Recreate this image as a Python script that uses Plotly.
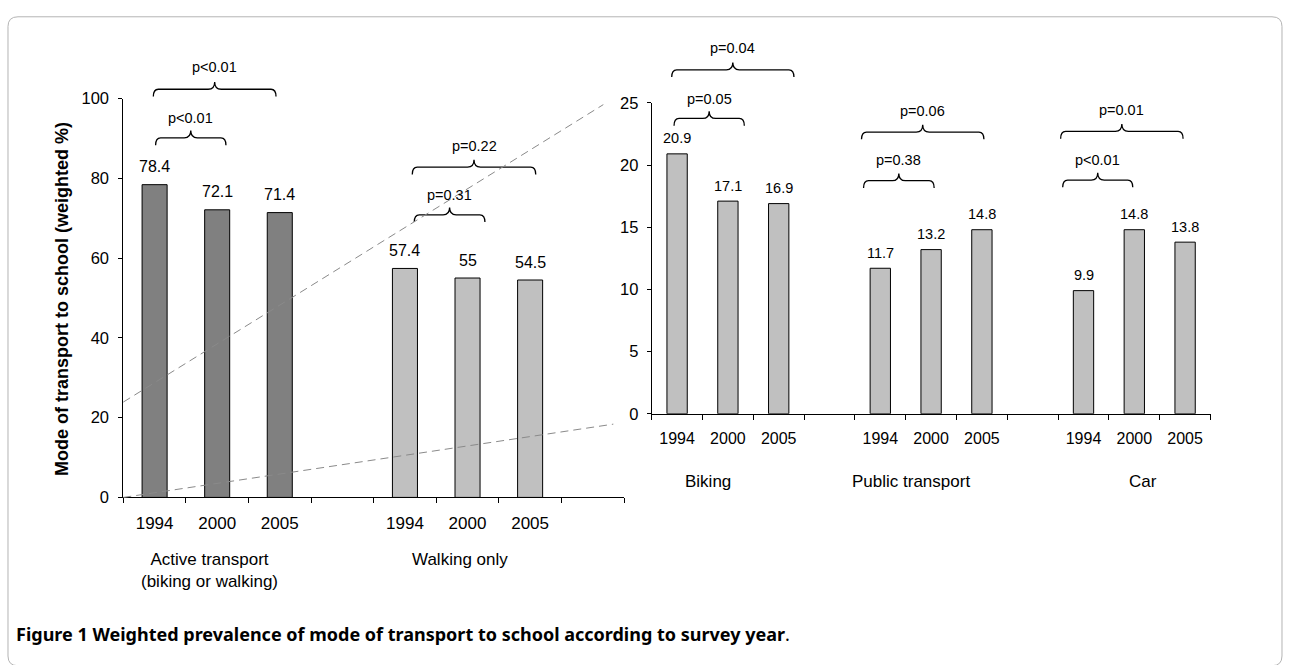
import plotly.graph_objects as go

# ---------------- data ----------------
years = ["1994", "2000", "2005"]
active_transport = [78.4, 72.1, 71.4]
walking_only = [57.4, 55.0, 54.5]
biking = [20.9, 17.1, 16.9]
public_transport = [11.7, 13.2, 14.8]
car = [9.9, 14.8, 13.8]

left_groups = ["Active transport<br>(biking or walking)", "Walking only"]
right_groups = ["Biking", "Public transport", "Car"]

left_pvalues = ["p<0.01", "p<0.01", "p=0.22", "p=0.31"]
right_pvalues = ["p=0.04", "p=0.05", "p=0.06", "p=0.38", "p=0.01", "p<0.01"]

y_title = "Mode of transport to school (weighted %)"
caption_bold = "Figure 1 Weighted prevalence of mode of transport to school according to survey year"

# ---------------- layout geometry (pixels) ----------------
W, H = 1289, 665
def px(x):
    return x / W
def py(y):
    return 1 - y / H

L_X0, L_X1 = 123.3, 624.0
L_Y0, L_Y100 = 502.0, 92.0
R_X0, R_X1 = 651.7, 1210.5
R_Y0, R_Y25 = 416.0, 96.5
L_UNIT = (L_X1 - L_X0) / 8
R_UNIT = (R_X1 - R_X0) / 11

DARK = "#808080"
LIGHT = "#c0c0c0"
FONT = "Liberation Sans, Arial, sans-serif"

fig = go.Figure()

left_x_active = [0, 1, 2]
left_x_walk = [4, 5, 6]
right_x = [[0, 1, 2], [4, 5, 6], [8, 9, 10]]
right_series = [biking, public_transport, car]

fig.add_trace(go.Bar(x=left_x_active, y=active_transport, width=0.4,
                     marker=dict(color=DARK, line=dict(color="black", width=1)),
                     xaxis="x", yaxis="y", showlegend=False, hoverinfo="skip"))
fig.add_trace(go.Bar(x=left_x_walk, y=walking_only, width=0.4,
                     marker=dict(color=LIGHT, line=dict(color="black", width=1)),
                     xaxis="x", yaxis="y", showlegend=False, hoverinfo="skip"))
for xs, vals in zip(right_x, right_series):
    fig.add_trace(go.Bar(x=xs, y=vals, width=0.4,
                         marker=dict(color=LIGHT, line=dict(color="black", width=1)),
                         xaxis="x2", yaxis="y2", showlegend=False, hoverinfo="skip"))

annotations = []
def fmt(v):
    return "%g" % v
for xs, vals in ((left_x_active, active_transport), (left_x_walk, walking_only)):
    for xv, v in zip(xs, vals):
        annotations.append(dict(x=xv, y=v, xref="x", yref="y", text=fmt(v), showarrow=False,
                                xanchor="center", yanchor="middle", yshift=18,
                                font=dict(size=16, family=FONT, color="black")))
for xs, vals in zip(right_x, right_series):
    for xv, v in zip(xs, vals):
        annotations.append(dict(x=xv, y=v, xref="x2", yref="y2", text=fmt(v), showarrow=False,
                                xanchor="center", yanchor="middle", yshift=15.5,
                                font=dict(size=14.5, family=FONT, color="black")))

# braces: (x0, x1, y_end_px, label_y_px)
left_braces = [(-0.02, 1.94, 90, 60), (0.016, 1.14, 140, 111.7), (4.117, 6.09, 170, 141), (4.149, 5.278, 219, 190.7)]
right_braces = [(-0.106, 2.30, 70, 40), (-0.06, 1.323, 120, 92.7), (3.63, 6.04, 134, 105),
                (3.67, 5.06, 184, 155.7), (7.55, 9.96, 133.3, 104.3), (7.59, 8.97, 183.3, 155)]

shapes = []
def brace(xref, unit, x0, x1, yE, h=15.0):
    r1 = 5.0 / unit
    r2 = 6.5 / unit
    xm = (x0 + x1) / 2
    yH = yE - 0.5 * h
    yT = yE - h
    pth = ("M %.4f,%.5f Q %.4f,%.5f %.4f,%.5f L %.4f,%.5f Q %.4f,%.5f %.4f,%.5f "
           "Q %.4f,%.5f %.4f,%.5f L %.4f,%.5f Q %.4f,%.5f %.4f,%.5f") % (
        x0, py(yE), x0, py(yH), x0 + r1, py(yH),
        xm - r2, py(yH), xm, py(yH), xm, py(yT),
        xm, py(yH), xm + r2, py(yH),
        x1 - r1, py(yH), x1, py(yH), x1, py(yE))
    return dict(type="path", path=pth, xref=xref, yref="paper",
                line=dict(color="black", width=1.3))

for (x0, x1, yE, ly), lab in zip(left_braces, left_pvalues):
    shapes.append(brace("x", L_UNIT, x0, x1, yE))
    annotations.append(dict(x=(x0 + x1) / 2, y=py(ly), xref="x", yref="paper", text=lab,
                            showarrow=False, xanchor="center", yanchor="middle",
                            font=dict(size=14.5, family=FONT, color="black")))
for (x0, x1, yE, ly), lab in zip(right_braces, right_pvalues):
    shapes.append(brace("x2", R_UNIT, x0, x1, yE))
    annotations.append(dict(x=(x0 + x1) / 2, y=py(ly), xref="x2", yref="paper", text=lab,
                            showarrow=False, xanchor="center", yanchor="middle",
                            font=dict(size=14.5, family=FONT, color="black")))

# dashed connector lines
shapes.append(dict(type="line", xref="paper", yref="paper", x0=px(123.3), y0=py(404), x1=px(603.3), y1=py(98.3),
                   line=dict(color="#8a8a8a", width=1, dash="8px,5px")))
shapes.append(dict(type="line", xref="paper", yref="paper", x0=px(123.3), y0=py(502), x1=px(613.3), y1=py(426.7),
                   line=dict(color="#8a8a8a", width=1, dash="8px,5px")))

# border (rounded)
r = 10
bx0, by0, bx1, by1 = 8, 8, 1282, 675
border = ("M %f,%f L %f,%f Q %f,%f %f,%f L %f,%f Q %f,%f %f,%f L %f,%f Q %f,%f %f,%f L %f,%f Q %f,%f %f,%f Z") % (
    px(bx0 + r), py(by0), px(bx1 - r), py(by0), px(bx1), py(by0), px(bx1), py(by0 + r),
    px(bx1), py(by1 - r), px(bx1), py(by1), px(bx1 - r), py(by1),
    px(bx0 + r), py(by1), px(bx0), py(by1), px(bx0), py(by1 - r),
    px(bx0), py(by0 + r), px(bx0), py(by0), px(bx0 + r), py(by0))
shapes.append(dict(type="path", path=border, xref="paper", yref="paper",
                   line=dict(color="#b4b4b4", width=1), layer="below"))

def lab_ann(x, y, text, size=17, family=FONT, xanchor="center", **kw):
    return dict(x=px(x), y=py(y), xref="paper", yref="paper", text=text, showarrow=False,
                xanchor=xanchor, yanchor="middle", font=dict(size=size, family=family, color="black"), **kw)

# group labels
annotations.append(lab_ann(209, 577, left_groups[0]))
annotations.append(lab_ann(460, 566, left_groups[1]))
for xc, lab in zip([708, 911, 1143], right_groups):
    annotations.append(lab_ann(xc, 486, lab))

# y-axis title
annotations.append(lab_ann(62, 298, "<b>" + y_title + "</b>", size=18, textangle=-90))

# caption
annotations.append(lab_ann(14, 642, "<b>" + caption_bold + "</b>.", size=18,
                           family="Noto Sans, sans-serif", xanchor="left"))

axis_common = dict(showgrid=False, zeroline=False, showline=True, linecolor="black", linewidth=1)

fig.update_layout(
    width=W, height=H, margin=dict(l=0, r=0, t=0, b=0),
    paper_bgcolor="white", plot_bgcolor="rgba(0,0,0,0)",
    bargap=0, barmode="overlay", hovermode=False,
    xaxis=dict(domain=[px(L_X0), px(L_X1)], range=[-0.5, 7.5], anchor="y",
               tickvals=left_x_active + left_x_walk, ticktext=years + years, ticks="",
               minor=dict(tickvals=[i - 0.5 for i in range(9)], ticks="outside", ticklen=5, tickcolor="black"),
               ticklabelstandoff=10, tickfont=dict(family=FONT, size=17, color="black"), **axis_common),
    yaxis=dict(domain=[py(L_Y0), py(L_Y100)], range=[0, 100], anchor="x",
               tickvals=[0, 20, 40, 60, 80, 100], ticks="outside", ticklen=4, tickcolor="black",
               ticklabelstandoff=6, tickfont=dict(family=FONT, size=16.5, color="black"), **axis_common),
    yaxis3=dict(overlaying="y", anchor="x", range=[0, 100], tickvals=list(range(0, 101, 10)),
                ticks="inside", ticklen=4, tickcolor="black", showticklabels=False,
                showline=False, showgrid=False, zeroline=False),
    xaxis2=dict(domain=[px(R_X0), px(R_X1)], range=[-0.5, 10.5], anchor="y2",
                tickvals=right_x[0] + right_x[1] + right_x[2], ticktext=years * 3, ticks="",
                minor=dict(tickvals=[i - 0.5 for i in range(12)], ticks="outside", ticklen=5, tickcolor="black"),
                ticklabelstandoff=10, tickfont=dict(family=FONT, size=16, color="black"), **axis_common),
    yaxis2=dict(domain=[py(R_Y0), py(R_Y25)], range=[0, 25], anchor="x2",
                tickvals=[0, 5, 10, 15, 20, 25], ticks="outside", ticklen=4, tickcolor="black",
                ticklabelstandoff=5, tickfont=dict(family=FONT, size=16.5, color="black"), **axis_common),
    yaxis4=dict(overlaying="y2", anchor="x2", range=[0, 25], tickvals=[i * 2.5 for i in range(11)],
                ticks="inside", ticklen=4, tickcolor="black", showticklabels=False,
                showline=False, showgrid=False, zeroline=False),
    shapes=shapes, annotations=annotations,
)

fig.write_html("out.html", config={"displayModeBar": False, "staticPlot": True},
               post_script="document.body.style.margin='0';document.body.style.overflow='hidden';")
